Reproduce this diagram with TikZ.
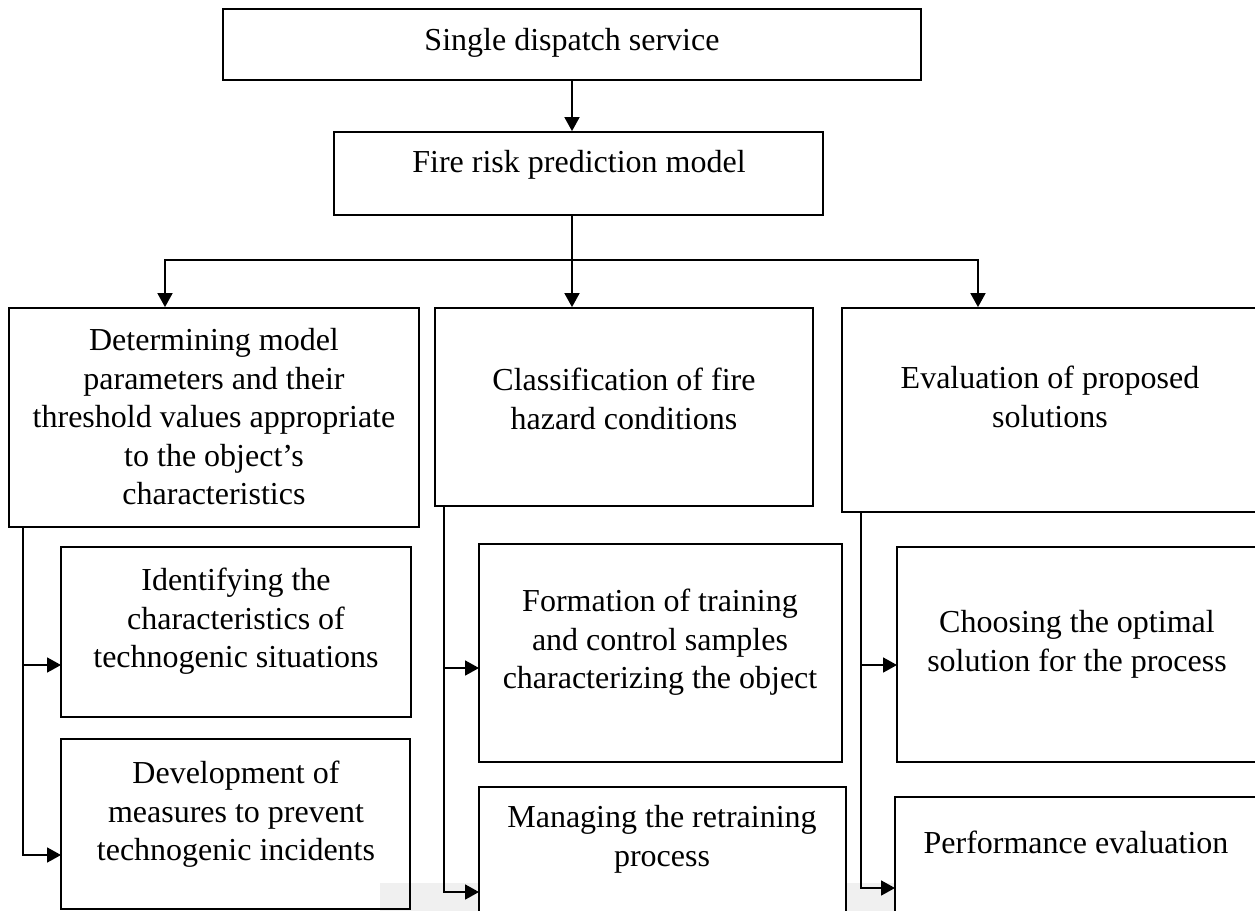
\documentclass[tikz,border=0pt]{standalone}
\usepackage{fontspec}
\setmainfont{Liberation Serif}
\usetikzlibrary{arrows.meta,fit}
\begin{document}
\begin{tikzpicture}[x=0.5pt,y=-0.5pt,
  box/.style={draw, line width=0.9pt, inner sep=0pt},
  wbox/.style={box, fill=white},
  txt/.style={anchor=north, align=center, inner sep=0pt, font=\fontsize{16}{19.25}\selectfont},
  ln/.style={line width=0.9pt},
  arr/.style={ln, -{Triangle[length=7pt,width=7.5pt]}}]
\useasboundingbox (0,0) rectangle (1255,911);
\clip (0,0) rectangle (1255,911);
\fill[black!6] (380,883) rectangle (897,911);
% boxes
\node[box, fit={(223,9) (921,80)}] (top) {};
\node[box, fit={(334,132) (823,215)}] (fire) {};
\node[box, fit={(9,308) (419,527)}] (left) {};
\node[box, fit={(435,308) (813,506)}] (mid) {};
\node[box, fit={(842,308) (1262,512)}] (right) {};
\node[box, fit={(61,547) (411,717)}] (ls1) {};
\node[box, fit={(61,739) (410,909)}] (ls2) {};
\node[box, fit={(479,544) (842,762)}] (ms1) {};
\node[wbox, fit={(479,787) (846,918)}] (ms2) {};
\node[box, fit={(897,547) (1262,762)}] (rs1) {};
\node[wbox, fit={(895,797) (1262,918)}] (rs2) {};
% texts
\node[txt] (topT) at (572,28) {Single dispatch service};
\node[txt] (fireT) at (579,150) {Fire risk prediction model};
\node[txt] (leftT) at (214,328) {Determining model\\parameters and their\\threshold values appropriate\\to the object’s\\characteristics};
\node[txt] (midT) at (624,368) {Classification of fire\\hazard conditions};
\node[txt] (rightT) at (1050,366) {Evaluation of proposed\\solutions};
\node[txt] (ls1T) at (236,568) {Identifying the\\characteristics of\\technogenic situations};
\node[txt] (ls2T) at (236,761) {Development of\\measures to prevent\\technogenic incidents};
\node[txt] (ms1T) at (660,589) {Formation of training\\and control samples\\characterizing the object};
\node[txt] (ms2T) at (662,805) {Managing the retraining\\process};
\node[txt] (rs1T) at (1077,610) {Choosing the optimal\\solution for the process};
\node[txt] (rs2T) at (1076,831) {Performance evaluation};
% coordinates
\coordinate (jM) at (572,260);
\coordinate (jL) at (165,260);
\coordinate (jR) at (978,260);
\coordinate (tL) at (23,0);
\coordinate (tM) at (444,0);
\coordinate (tR) at (861,0);
\coordinate (aL1) at (61,665);
\coordinate (aL2) at (61,855);
\coordinate (aM1) at (479,668);
\coordinate (aM2) at (479,892);
\coordinate (aR1) at (897,665);
\coordinate (aR2) at (895,888);
% connectors
\draw[arr] (top.south -| jM) -- (jM |- fire.north);
\draw[ln] (jM |- fire.south) -- (jM);
\draw[arr] (jM) -- (jM |- mid.north);
\draw[arr] (jM) -- (jL) -- (jL |- left.north);
\draw[arr] (jM) -- (jR) -- (jR |- right.north);
\draw[arr] (tL |- left.south) |- (aL2);
\draw[arr] (tL |- aL1) -- (aL1);
\draw[arr] (tM |- mid.south) |- (aM2);
\draw[arr] (tM |- aM1) -- (aM1);
\draw[arr] (tR |- right.south) |- (aR2);
\draw[arr] (tR |- aR1) -- (aR1);
\end{tikzpicture}
\end{document}
